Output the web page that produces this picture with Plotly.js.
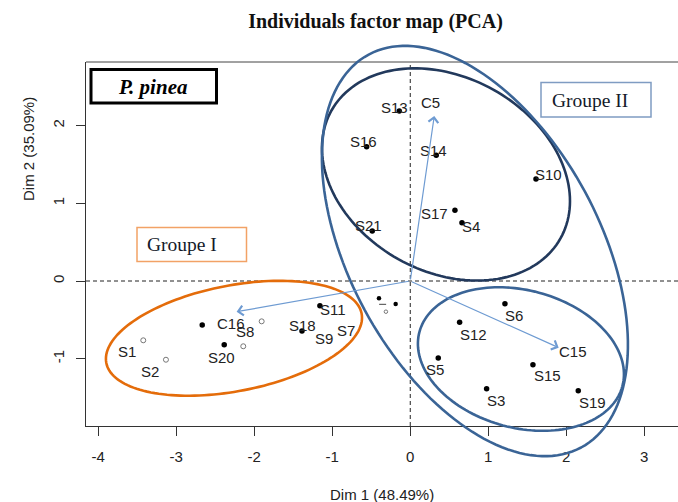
<!DOCTYPE html>
<html>
<head>
<meta charset="utf-8">
<script src="https://cdn.plot.ly/plotly-3.0.1.min.js"></script>
<style>
  html, body { margin: 0; padding: 0; background: #fff; overflow: hidden; }
  #chart { width: 678px; height: 502px; }
</style>
</head>
<body>
<div id="chart"></div>
<script>
// Individuals: coordinates on Dim 1 / Dim 2
const indNames = ["S13", "S16", "S21", "S14", "S10", "S17", "S4",
                  "S6", "S12", "S5", "S15", "S3", "S19",
                  "S11", "S18", "S20", "S1", "S2", "S8", "", "",
                  "", "", "", "", "S9", "S7"];
const dim1 = [-0.141, -0.559, -0.487, 0.333, 1.612, 0.573, 0.663,
              1.214, 0.633, 0.359, 1.573, 0.979, 2.154,
              -1.158, -1.388, -2.385, -3.423, -3.132, -1.905, -2.667, -2.141,
              -0.401, -0.187, -0.354, -0.312, -1.106, -0.828];
const dim2 = [2.188, 1.728, 0.644, 1.618, 1.313, 0.910, 0.750,
              -0.292, -0.532, -0.991, -1.077, -1.386, -1.412,
              -0.318, -0.644, -0.820, -0.763, -1.013, -0.519, -0.566, -0.840,
              -0.223, -0.296, -0.300, -0.395, -0.734, -0.631];
// marker kind for each individual
const indMarker = ["dot", "dot", "dot", "dot", "dot", "dot", "dot",
                   "dot", "dot", "dot", "dot", "dot", "dot",
                   "dot", "dot", "dot", "open", "open", "open", "dot", "open",
                   "small", "small", "dash", "tiny", "none", "none"];

// Supplementary variables drawn as arrows from the origin
const varNames = ["C5", "C15", "C16"];
const varDim1 = [0.308, 1.903, -2.226];
const varDim2 = [2.124, -0.858, -0.395];

// Axis ticks
const xTicks = [-4, -3, -2, -1, 0, 1, 2, 3];
const yTicks = [-1, 0, 1, 2];

// Label offsets in screen pixels (dx right, dy down)
const labelDx = [-5, -3.4, -3.6, -3, 12.7, -20, 8.7,
                 9, 14.3, -3.3, 14.3, 9.3, 14,
                 12.7, 0.7, -2.6, -16.6, -16, -16.7, 0, 0,
                 0, 0, 0, 0, 0, 0];
const labelDy = [-4, -5, -5, -5, -4, 3, 4,
                 11.3, 11.7, 11.3, 11, 11.3, 12,
                 3.3, -6, 13, 10.7, 12, 10.4, 0, 0,
                 0, 0, 0, 0, 0, 0];
const varLabelDx = [-4, 14.6, -6];
const varLabelDy = [-13, 4.3, 11.6];

// Group ellipses (centre, semi-axes in axis units, tilt in degrees)
const groupEllipses = [
  { cx: -2.26, cy: -0.737, a: 1.667, b: 0.68, deg: 11, color: "#E46C0A" },
  { cx: 0.458, cy: 1.371, a: 1.683, b: 1.249, deg: -29.3, color: "#22395C" },
  { cx: 0.829, cy: 0.386, a: 2.872, b: 1.604, deg: -61.7, color: "#3A6496" },
  { cx: 1.419, cy: -1.004, a: 1.347, b: 0.885, deg: -15.1, color: "#3A6496" }
];

// Page geometry
const W = 678, H = 502;
const ML = 86, MR = 0, MT = 62, MB = 76;
const PW = W - ML - MR, PH = H - MT - MB;
const xRange = [-4.157, -4.157 + PW / 78];
const yRange = [-1.866, -1.866 + PH / 77.7];

const pxX = px => (px - ML) / PW;
const pxY = py => (MT + PH - py) / PH;
const dX = x => (x - xRange[0]) / (xRange[1] - xRange[0]);
const dY = y => (y - yRange[0]) / (yRange[1] - yRange[0]);

function ellipsePath(e) {
  const th = e.deg * Math.PI / 180;
  const n = 160;
  let p = "";
  for (let i = 0; i <= n; i++) {
    const t = 2 * Math.PI * i / n;
    const ux = e.a * Math.cos(t), uy = e.b * Math.sin(t);
    const x = e.cx + ux * Math.cos(th) - uy * Math.sin(th);
    const y = e.cy + ux * Math.sin(th) + uy * Math.cos(th);
    p += (i === 0 ? "M" : "L") + dX(x).toFixed(5) + "," + dY(y).toFixed(5);
  }
  return p + "Z";
}

function pick(kind) {
  const xs = [], ys = [];
  indMarker.forEach((m, i) => { if (m === kind) { xs.push(dim1[i]); ys.push(dim2[i]); } });
  return { xs, ys };
}

const markerStyles = {
  dot:   { symbol: "circle", size: 5.5, color: "#000" },
  open:  { symbol: "circle-open", size: 5, color: "#777", line: { width: 1, color: "#777" } },
  small: { symbol: "circle", size: 4.5, color: "#000" },
  dash:  { symbol: "line-ew", size: 5, color: "#444", line: { width: 1, color: "#444" } },
  tiny:  { symbol: "circle-open", size: 3.5, color: "#777", line: { width: 1, color: "#777" } }
};

const traces = Object.keys(markerStyles).map(k => {
  const d = pick(k);
  return {
    type: "scatter", mode: "markers", x: d.xs, y: d.ys,
    marker: markerStyles[k], hoverinfo: "skip", showlegend: false, cliponaxis: false
  };
});

const labelFont = { family: "Liberation Sans, Arial, sans-serif", size: 15, color: "#222" };
const serif = "Liberation Serif, Times New Roman, serif";

const annotations = [];
indNames.forEach((nm, i) => {
  if (!nm) return;
  annotations.push({
    x: dim1[i], y: dim2[i], xref: "x", yref: "y", text: nm, showarrow: false,
    xshift: labelDx[i], yshift: -labelDy[i], xanchor: "center", yanchor: "middle",
    font: labelFont
  });
});
varNames.forEach((nm, i) => {
  annotations.push({
    x: varDim1[i], y: varDim2[i], xref: "x", yref: "y", ax: 0, ay: 0,
    axref: "x", ayref: "y", text: "", showarrow: true,
    arrowhead: 4, arrowsize: 1.6, arrowwidth: 1.2, arrowcolor: "#6E9BD2", standoff: 0
  });
  annotations.push({
    x: varDim1[i], y: varDim2[i], xref: "x", yref: "y", text: nm, showarrow: false,
    xshift: varLabelDx[i], yshift: -varLabelDy[i], xanchor: "center", yanchor: "middle",
    font: labelFont
  });
});

// Axis titles
annotations.push({
  x: pxX(381.5), y: pxY(494), xref: "paper", yref: "paper", showarrow: false,
  text: "Dim 1 (48.49%)", font: labelFont, xanchor: "center", yanchor: "middle"
});
annotations.push({
  x: pxX(28), y: pxY(149), xref: "paper", yref: "paper", showarrow: false,
  text: "Dim 2 (35.09%)", textangle: -90, font: labelFont, xanchor: "center", yanchor: "middle"
});

// Box captions
annotations.push({
  x: pxX(152.5), y: pxY(87), xref: "paper", yref: "paper", showarrow: false,
  text: "<b><i>P. pinea</i></b>", font: { family: serif, size: 21, color: "#000" },
  xanchor: "center", yanchor: "middle"
});
annotations.push({
  x: pxX(182), y: pxY(244.5), xref: "paper", yref: "paper", showarrow: false,
  text: "Groupe I", font: { family: serif, size: 19.5, color: "#141a2a" },
  xanchor: "center", yanchor: "middle"
});
annotations.push({
  x: pxX(590), y: pxY(100.5), xref: "paper", yref: "paper", showarrow: false,
  text: "Groupe II", font: { family: serif, size: 19.5, color: "#141a2a" },
  xanchor: "center", yanchor: "middle"
});

const shapes = [
  // reference lines through the origin
  { type: "line", xref: "x", yref: "paper", x0: 0, x1: 0, y0: 0, y1: 1,
    line: { color: "#222", width: 1, dash: "4px,3px" }, layer: "below" },
  { type: "line", xref: "paper", yref: "y", x0: 0, x1: 1, y0: 0, y1: 0,
    line: { color: "#222", width: 1, dash: "4px,3px" }, layer: "below" },
  // top edge of the frame
  { type: "line", xref: "paper", yref: "paper", x0: 0, x1: 1, y0: 1, y1: 1,
    line: { color: "#444", width: 1 } },
  // caption boxes
  { type: "rect", xref: "paper", yref: "paper", x0: pxX(91), x1: pxX(216.5), y0: pxY(103), y1: pxY(69.5),
    line: { color: "#000", width: 3 }, fillcolor: "rgba(255,255,255,0)" },
  { type: "rect", xref: "paper", yref: "paper", x0: pxX(137), x1: pxX(246.5), y0: pxY(261.5), y1: pxY(227.5),
    line: { color: "#F2A266", width: 1.5 } },
  { type: "rect", xref: "paper", yref: "paper", x0: pxX(541), x1: pxX(651), y0: pxY(117), y1: pxY(82.5),
    line: { color: "#7F9CC2", width: 1.5 } }
];
groupEllipses.forEach(e => {
  shapes.push({ type: "path", xref: "paper", yref: "paper", path: ellipsePath(e),
                line: { color: e.color, width: 2.6 } });
});

const axisFont = { family: "Liberation Sans, Arial, sans-serif", size: 15, color: "#222" };

const layout = {
  width: W, height: H,
  margin: { l: ML, r: MR, t: MT, b: MB, pad: 0 },
  paper_bgcolor: "#fff", plot_bgcolor: "#fff",
  title: {
    text: "<b>Individuals factor map (PCA)</b>",
    font: { family: serif, size: 20, color: "#111" },
    xref: "container", yref: "container", x: 375.5 / W, y: 1 - 21 / H,
    xanchor: "center", yanchor: "middle"
  },
  xaxis: {
    range: xRange, tickvals: xTicks, ticktext: xTicks.map(String),
    ticks: "outside", ticklen: 9, tickwidth: 1, tickcolor: "#333",
    showline: true, linecolor: "#333", linewidth: 1, mirror: false,
    showgrid: false, zeroline: false, tickfont: axisFont, ticklabelstandoff: 8
  },
  yaxis: {
    range: yRange, tickvals: yTicks, ticktext: yTicks.map(String), tickangle: -90,
    ticks: "outside", ticklen: 9, tickwidth: 1, tickcolor: "#333",
    showline: true, linecolor: "#333", linewidth: 1, mirror: false,
    showgrid: false, zeroline: false, tickfont: axisFont, ticklabelstandoff: 6
  },
  shapes: shapes,
  annotations: annotations,
  showlegend: false
};

Plotly.newPlot("chart", traces, layout, { displayModeBar: false, staticPlot: true });
</script>
</body>
</html>
